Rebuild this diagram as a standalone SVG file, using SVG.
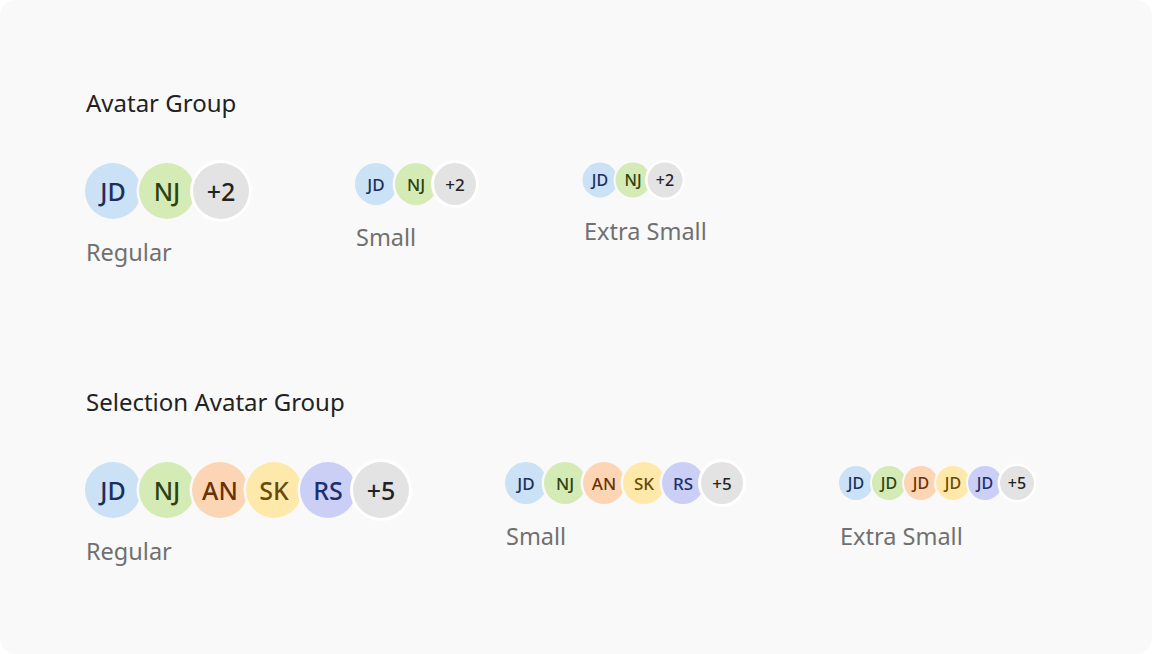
<svg xmlns="http://www.w3.org/2000/svg" width="1152" height="654" viewBox="0 0 1152 654">
<style>
.title{font-family:"Noto Sans","Open Sans",sans-serif;font-size:24px;fill:#222222}
.lbl{font-family:"Noto Sans","Open Sans",sans-serif;font-size:23.5px;fill:#707070}
.ring{fill:#f9f9f9}
.m .ring{fill:#ffffff}
.t{font-family:"Noto Sans","Open Sans",sans-serif;font-weight:500;text-anchor:middle;dominant-baseline:central}
.r .t{font-size:25px}.s .t{font-size:17px}.x .t{font-size:16px}
.b circle.c{fill:#cbe1f5}.b text{fill:#1b2f5e}
.g circle.c{fill:#d5ebb5}.g text{fill:#2c4211}
.o circle.c{fill:#fcd6b4}.o text{fill:#6a3106}
.y circle.c{fill:#ffe9aa}.y text{fill:#694a06}
.p circle.c{fill:#cbcff6}.p text{fill:#1b2f6b}
.m circle.c{fill:#e3e3e3}.m text{fill:#222222}
</style>
<rect x="0" y="0" width="1152" height="654" rx="16" fill="#f9f9f9"/>
<text class="title" x="86" y="112">Avatar Group</text>
<text class="title" x="86" y="411">Selection Avatar Group</text>

<g id="avatar-group-regular" class="r">
<g class="b"><circle class="ring" cx="113" cy="191" r="30.5"/><circle class="c" cx="113" cy="191" r="28"/><text class="t" x="113" y="191">JD</text></g>
<g class="g"><circle class="ring" cx="167" cy="191" r="30.5"/><circle class="c" cx="167" cy="191" r="28"/><text class="t" x="167" y="191">NJ</text></g>
<g class="m"><circle class="ring" cx="221" cy="191" r="31"/><circle class="c" cx="221" cy="191" r="28"/><text class="t" x="221" y="191">+2</text></g>
<text class="lbl" x="86" y="261">Regular</text>
</g>

<g id="avatar-group-small" class="s">
<g class="b"><circle class="ring" cx="376" cy="184" r="23.5"/><circle class="c" cx="376" cy="184" r="21"/><text class="t" x="376" y="184">JD</text></g>
<g class="g"><circle class="ring" cx="416" cy="184" r="23.5"/><circle class="c" cx="416" cy="184" r="21"/><text class="t" x="416" y="184">NJ</text></g>
<g class="m"><circle class="ring" cx="455" cy="184" r="24"/><circle class="c" cx="455" cy="184" r="21"/><text class="t" x="455" y="184">+2</text></g>
<text class="lbl" x="356" y="246">Small</text>
</g>

<g id="avatar-group-xsmall" class="x">
<g class="b"><circle class="ring" cx="600" cy="180" r="19.5"/><circle class="c" cx="600" cy="180" r="17.5"/><text class="t" x="600" y="180">JD</text></g>
<g class="g"><circle class="ring" cx="633" cy="180" r="19.5"/><circle class="c" cx="633" cy="180" r="17.5"/><text class="t" x="633" y="180">NJ</text></g>
<g class="m"><circle class="ring" cx="665" cy="180" r="20"/><circle class="c" cx="665" cy="180" r="17.5"/><text class="t" x="665" y="180">+2</text></g>
<text class="lbl" x="584" y="240">Extra Small</text>
</g>

<g id="selection-group-regular" class="r">
<g class="b"><circle class="ring" cx="113" cy="490" r="30.5"/><circle class="c" cx="113" cy="490" r="28"/><text class="t" x="113" y="490">JD</text></g>
<g class="g"><circle class="ring" cx="167" cy="490" r="30.5"/><circle class="c" cx="167" cy="490" r="28"/><text class="t" x="167" y="490">NJ</text></g>
<g class="o"><circle class="ring" cx="220" cy="490" r="30.5"/><circle class="c" cx="220" cy="490" r="28"/><text class="t" x="220" y="490">AN</text></g>
<g class="y"><circle class="ring" cx="274" cy="490" r="30.5"/><circle class="c" cx="274" cy="490" r="28"/><text class="t" x="274" y="490">SK</text></g>
<g class="p"><circle class="ring" cx="328" cy="490" r="30.5"/><circle class="c" cx="328" cy="490" r="28"/><text class="t" x="328" y="490">RS</text></g>
<g class="m"><circle class="ring" cx="381" cy="490" r="31"/><circle class="c" cx="381" cy="490" r="28"/><text class="t" x="381" y="490">+5</text></g>
<text class="lbl" x="86" y="560">Regular</text>
</g>

<g id="selection-group-small" class="s">
<g class="b"><circle class="ring" cx="526" cy="483" r="23.5"/><circle class="c" cx="526" cy="483" r="21"/><text class="t" x="526" y="483">JD</text></g>
<g class="g"><circle class="ring" cx="565" cy="483" r="23.5"/><circle class="c" cx="565" cy="483" r="21"/><text class="t" x="565" y="483">NJ</text></g>
<g class="o"><circle class="ring" cx="604" cy="483" r="23.5"/><circle class="c" cx="604" cy="483" r="21"/><text class="t" x="604" y="483">AN</text></g>
<g class="y"><circle class="ring" cx="644" cy="483" r="23.5"/><circle class="c" cx="644" cy="483" r="21"/><text class="t" x="644" y="483">SK</text></g>
<g class="p"><circle class="ring" cx="683" cy="483" r="23.5"/><circle class="c" cx="683" cy="483" r="21"/><text class="t" x="683" y="483">RS</text></g>
<g class="m"><circle class="ring" cx="722" cy="483" r="24"/><circle class="c" cx="722" cy="483" r="21"/><text class="t" x="722" y="483">+5</text></g>
<text class="lbl" x="506" y="545">Small</text>
</g>

<g id="selection-group-xsmall" class="x">
<g class="b"><circle class="ring" cx="856" cy="483" r="19"/><circle class="c" cx="856" cy="483" r="17"/><text class="t" x="856" y="483">JD</text></g>
<g class="g"><circle class="ring" cx="889" cy="483" r="19"/><circle class="c" cx="889" cy="483" r="17"/><text class="t" x="889" y="483">JD</text></g>
<g class="o"><circle class="ring" cx="921" cy="483" r="19"/><circle class="c" cx="921" cy="483" r="17"/><text class="t" x="921" y="483">JD</text></g>
<g class="y"><circle class="ring" cx="953" cy="483" r="19"/><circle class="c" cx="953" cy="483" r="17"/><text class="t" x="953" y="483">JD</text></g>
<g class="p"><circle class="ring" cx="985" cy="483" r="19"/><circle class="c" cx="985" cy="483" r="17"/><text class="t" x="985" y="483">JD</text></g>
<g class="m"><circle class="ring" cx="1017" cy="483" r="19.5"/><circle class="c" cx="1017" cy="483" r="17"/><text class="t" x="1017" y="483">+5</text></g>
<text class="lbl" x="840" y="545">Extra Small</text>
</g>
</svg>
